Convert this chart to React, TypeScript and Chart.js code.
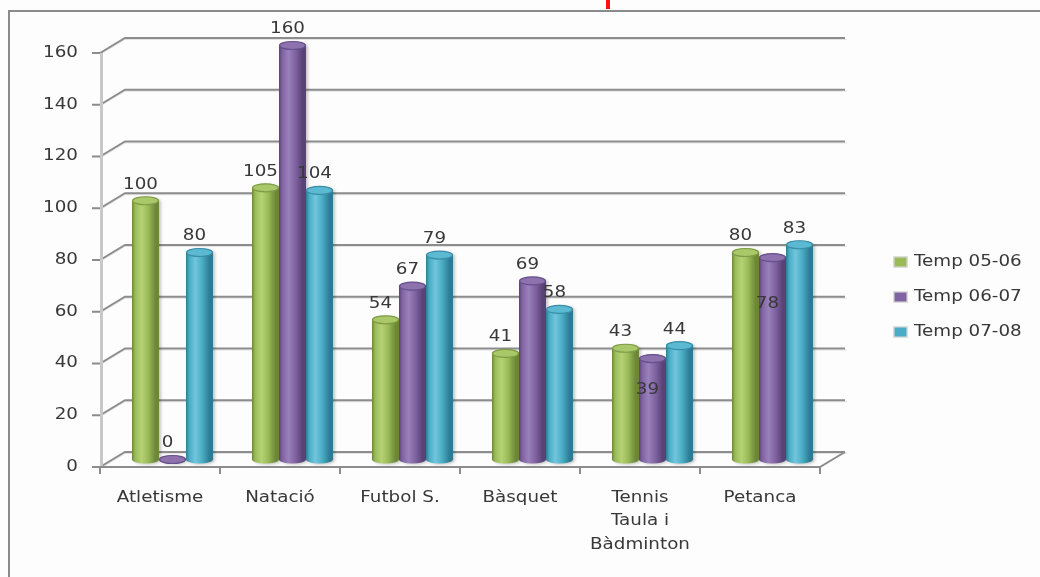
import React, { useEffect, useRef } from "react";
import { Chart, registerables } from "chart.js";

Chart.register(...registerables);

const categories: string[][] = [
  ["Atletisme"],
  ["Natació"],
  ["Futbol S."],
  ["Bàsquet"],
  ["Tennis", "Taula i", "Bàdminton"],
  ["Petanca"],
];
const seriesNames = ["Temp 05-06", "Temp 06-07", "Temp 07-08"];
const temp0506 = [100, 105, 54, 41, 43, 80];
const temp0607 = [0, 160, 67, 69, 39, 78];
const temp0708 = [80, 104, 79, 58, 44, 83];
const yTicks = [0, 20, 40, 60, 80, 100, 120, 140, 160];

// style config
const palette = [
  { base: "#9bbb59", dark: "#6c8737", light: "#b5d273", top: "#a9c86a", edge: "#7f9c45" },
  { base: "#8064a2", dark: "#594277", light: "#9a80bb", top: "#8d72ae", edge: "#66508a" },
  { base: "#4bacc6", dark: "#2c7b92", light: "#6fc6dc", top: "#5cb9d2", edge: "#3a8ea6" },
];
// [series, index, dy] labels Excel moved inside the bar
const labelInside: number[][] = [
  [1, 4, 32],
  [1, 5, 46],
];

const DX = 12.5;
const DY = 7.5;
const TEXT = "#383838";
const FONT = '15px "DejaVu Sans"';
const SX = 1.22;

function sText(ctx: CanvasRenderingContext2D, t: string, x: number, y: number, align: CanvasTextAlign) {
  ctx.save();
  ctx.translate(x, y);
  ctx.scale(SX, 1);
  ctx.font = FONT;
  ctx.fillStyle = TEXT;
  ctx.textAlign = align;
  ctx.textBaseline = "middle";
  ctx.fillText(t, 0, 0);
  ctx.restore();
}

const deco = {
  id: "deco",
  beforeDraw(chart: any) {
    const ctx = chart.ctx as CanvasRenderingContext2D;
    ctx.save();
    ctx.fillStyle = "#fdfdfd";
    ctx.fillRect(0, 0, chart.width, chart.height);
    // frame
    ctx.strokeStyle = "#8a8a8a";
    ctx.lineWidth = 2;
    ctx.beginPath();
    ctx.moveTo(9, chart.height + 2);
    ctx.lineTo(9, 11);
    ctx.lineTo(chart.width + 2, 11);
    ctx.stroke();
    // red marker
    ctx.fillStyle = "#ff1010";
    ctx.fillRect(606, 0, 4, 9);
    ctx.restore();
  },
  beforeDatasetsDraw(chart: any) {
    const ctx = chart.ctx as CanvasRenderingContext2D;
    const y = chart.scales.y;
    const x = chart.scales.x;
    const { left, right } = chart.chartArea;
    const fl = left - DX;
    const bl = left + DX;
    const br = right + DX;
    const fr = right - DX;
    ctx.save();
    // gridlines on back wall
    yTicks.forEach((v) => {
      const py = y.getPixelForValue(v);
      ctx.strokeStyle = "rgba(215,215,215,0.7)";
      ctx.lineWidth = 1;
      ctx.beginPath();
      ctx.moveTo(fl, py + DY + 1.5);
      ctx.lineTo(bl, py - DY + 1.5);
      ctx.lineTo(br + 2, py - DY + 1.5);
      ctx.stroke();
      ctx.strokeStyle = "#8c8c8c";
      ctx.lineWidth = 1.8;
      ctx.beginPath();
      ctx.moveTo(fl - 8, py + DY);
      ctx.lineTo(fl, py + DY);
      ctx.lineTo(bl, py - DY);
      ctx.lineTo(br, py - DY);
      ctx.stroke();
      sText(ctx, String(v), fl - 22, py + DY, "right");
    });
    // vertical axis line
    const y0 = y.getPixelForValue(0);
    const yTop = y.getPixelForValue(160);
    ctx.strokeStyle = "#c8c8c8";
    ctx.lineWidth = 3;
    ctx.beginPath();
    ctx.moveTo(fl + 1.5, yTop + DY);
    ctx.lineTo(fl + 1.5, y0 + DY);
    ctx.stroke();
    // floor front edge
    ctx.strokeStyle = "#8c8c8c";
    ctx.lineWidth = 2;
    ctx.beginPath();
    ctx.moveTo(fl, y0 + DY);
    ctx.lineTo(fr, y0 + DY);
    ctx.lineTo(br, y0 - DY);
    ctx.stroke();
    // category ticks
    const n = categories.length;
    const cw = (right - left) / n;
    for (let i = 0; i <= n; i++) {
      const tx = fl + cw * i;
      ctx.beginPath();
      ctx.moveTo(tx, y0 + DY);
      ctx.lineTo(tx, y0 + DY + 7);
      ctx.stroke();
    }
    // category labels
    categories.forEach((lines, i) => {
      const cx = x.getPixelForValue(i) - DX;
      lines.forEach((ln, j) => sText(ctx, ln, cx, 498 + j * 23.5, "center"));
    });
    ctx.restore();
  },
  afterDatasetsDraw(chart: any) {
    const ctx = chart.ctx as CanvasRenderingContext2D;
    for (let s = 0; s < chart.data.datasets.length; s++) {
      const meta = chart.getDatasetMeta(s);
      const c = palette[s];
      meta.data.forEach((el: any) => {
        const { x, y, base, width } = el.getProps(["x", "y", "base", "width"], true);
        const rx = width / 2;
        const ry = 4;
        ctx.save();
        ctx.shadowColor = "rgba(0,0,0,0.22)";
        ctx.shadowBlur = 3;
        ctx.shadowOffsetX = 2;
        ctx.shadowOffsetY = 1;
        const g = ctx.createLinearGradient(x - rx, 0, x + rx, 0);
        g.addColorStop(0, c.dark);
        g.addColorStop(0.12, c.base);
        g.addColorStop(0.35, c.light);
        g.addColorStop(0.6, c.base);
        g.addColorStop(0.88, c.dark);
        g.addColorStop(1, c.dark);
        ctx.fillStyle = g;
        ctx.beginPath();
        ctx.moveTo(x - rx, y);
        ctx.lineTo(x - rx, base);
        ctx.ellipse(x, base, rx, ry, 0, Math.PI, 0, true);
        ctx.lineTo(x + rx, y);
        ctx.ellipse(x, y, rx, ry, 0, 0, Math.PI, true);
        ctx.closePath();
        ctx.fill();
        ctx.restore();
        ctx.save();
        ctx.fillStyle = c.top;
        ctx.strokeStyle = c.edge;
        ctx.lineWidth = 1.2;
        ctx.beginPath();
        ctx.ellipse(x, y, rx - 0.6, ry, 0, 0, Math.PI * 2);
        ctx.fill();
        ctx.stroke();
        ctx.restore();
      });
    }
    // value labels
    for (let s = 0; s < chart.data.datasets.length; s++) {
      const meta = chart.getDatasetMeta(s);
      const data = chart.data.datasets[s].data as number[];
      meta.data.forEach((el: any, i: number) => {
        const { x, y } = el.getProps(["x", "y"], true);
        let dy = -16;
        labelInside.forEach(([ss, ii, d]) => {
          if (ss === s && ii === i) dy = d;
        });
        sText(ctx, String(data[i]), x - 5, y + dy, "center");
      });
    }
    // legend
    ctx.save();
    seriesNames.forEach((name, s) => {
      const ly = 262 + s * 35;
      const c = palette[s];
      ctx.fillStyle = "rgba(200,200,200,0.6)";
      ctx.fillRect(893, ly - 6, 15, 12);
      ctx.fillStyle = c.base;
      ctx.fillRect(894.5, ly - 4.5, 12, 9);
      sText(ctx, name, 914, ly, "left");
    });
    ctx.restore();
  },
};

export default function App() {
  const ref = useRef<HTMLCanvasElement | null>(null);
  useEffect(() => {
    if (!ref.current) return;
    const chart = new Chart(ref.current, {
      type: "bar",
      data: {
        labels: categories.map((c) => c.join(" ")),
        datasets: [temp0506, temp0607, temp0708].map((d, i) => ({
          label: seriesNames[i],
          data: d,
          backgroundColor: "rgba(0,0,0,0)",
          borderWidth: 0,
          categoryPercentage: 0.675,
          barPercentage: 1,
        })),
      },
      options: {
        responsive: false,
        animation: false,
        events: [],
        layout: { padding: { left: 112.5, right: 207.5, top: 45.5, bottom: 117.5 } },
        plugins: { legend: { display: false }, tooltip: { enabled: false } },
        scales: {
          x: { display: false },
          y: { display: false, min: 0, max: 160 },
        },
      },
      plugins: [deco],
    });
    return () => chart.destroy();
  }, []);
  return (
    <div style={{ position: "fixed", left: 0, top: 0, width: 1040, height: 577 }}>
      <canvas ref={ref} width={1040} height={577} style={{ display: "block" }} />
    </div>
  );
}
